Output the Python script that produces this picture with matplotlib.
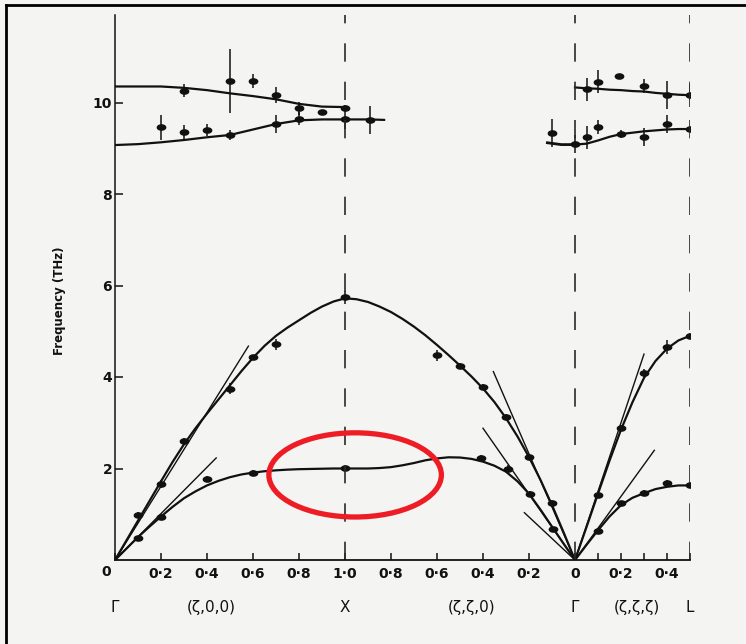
import numpy as np
import matplotlib
matplotlib.use("Agg")
import matplotlib.pyplot as plt
from matplotlib.path import Path
from matplotlib.patches import Ellipse
from matplotlib.lines import Line2D

# ---------------- data ----------------
# Segment 1: Gamma -> X, (zeta,0,0); position = zeta
seg1_zeta = [0.0, 0.05, 0.1, 0.15, 0.2, 0.25, 0.3, 0.35, 0.4, 0.45, 0.5,
             0.55, 0.6, 0.65, 0.7, 0.75, 0.8, 0.85, 0.9, 0.95, 1.0]
seg1_LA = [0.0, 0.43, 0.86, 1.29, 1.72, 2.14, 2.53, 2.88, 3.2, 3.51, 3.82,
           4.13, 4.42, 4.68, 4.9, 5.08, 5.24, 5.4, 5.54, 5.65, 5.72]
seg1_TA = [0.0, 0.25, 0.5, 0.73, 0.95, 1.16, 1.35, 1.5, 1.63, 1.73, 1.81,
           1.87, 1.91, 1.94, 1.96, 1.975, 1.985, 1.99, 1.995, 2.0, 2.0]
seg1_opt_zeta = [0.0, 0.1, 0.2, 0.3, 0.4, 0.5, 0.6, 0.7, 0.8, 0.9, 1.0]
seg1_opt_hi = [10.35, 10.35, 10.35, 10.32, 10.27, 10.2, 10.14, 10.07, 9.97, 9.91, 9.9]
seg1_opt_lo = [9.07, 9.09, 9.13, 9.18, 9.24, 9.29, 9.41, 9.53, 9.61, 9.63, 9.63]

# Segment 2: X -> Gamma, (zeta,zeta,0); position = 2 - zeta
seg2_zeta = [1.0, 0.95, 0.9, 0.85, 0.8, 0.75, 0.7, 0.65, 0.6, 0.55, 0.5,
             0.45, 0.4, 0.35, 0.3, 0.25, 0.2, 0.15, 0.1, 0.05, 0.0]
seg2_LA = [5.72, 5.7, 5.64, 5.54, 5.42, 5.27, 5.1, 4.91, 4.7, 4.48, 4.25,
           4.01, 3.75, 3.45, 3.1, 2.7, 2.25, 1.75, 1.2, 0.61, 0.0]
seg2_TA = [2.0, 2.0, 2.0, 2.01, 2.03, 2.07, 2.12, 2.18, 2.22, 2.245, 2.24,
           2.21, 2.15, 2.06, 1.93, 1.72, 1.45, 1.1, 0.73, 0.36, 0.0]
seg2_opt_lo_zeta = [1.0, 0.9, 0.83]
seg2_opt_lo = [9.63, 9.63, 9.62]
seg2_opt_tail_zeta = [0.12, 0.06, 0.0]
seg2_opt_tail = [9.12, 9.08, 9.08]

# Segment 3: Gamma -> L, (zeta,zeta,zeta); position = 2 + zeta
seg3_zeta = [0.0, 0.05, 0.1, 0.15, 0.2, 0.25, 0.3, 0.35, 0.4, 0.45, 0.5]
seg3_LA = [0.0, 0.72, 1.45, 2.17, 2.85, 3.45, 3.98, 4.35, 4.62, 4.8, 4.9]
seg3_TA = [0.0, 0.33, 0.65, 0.95, 1.2, 1.36, 1.46, 1.55, 1.6, 1.63, 1.63]
seg3_opt_hi = [10.33, 10.31, 10.3, 10.28, 10.27, 10.25, 10.24, 10.21, 10.19, 10.17, 10.16]
seg3_opt_lo = [9.08, 9.1, 9.17, 9.25, 9.31, 9.34, 9.37, 9.39, 9.41, 9.42, 9.42]

# initial slopes (THz per zeta) and extent of the straight sound-velocity lines
tan1_slope = [8.06, 5.07]
tan1_extent = [0.58, 0.44]
tan2_slope = [11.6, 7.2, 4.7]
tan2_extent = [0.355, 0.40, 0.22]
tan3_slope = [15.0, 6.95]
tan3_extent = [0.30, 0.345]

# measured points: (zeta, frequency, error)
pts1_zeta = [0.1, 0.2, 0.3, 0.5, 0.6, 0.7, 1.0, 0.1, 0.2, 0.4, 0.6, 1.0]
pts1_freq = [0.98, 1.66, 2.6, 3.74, 4.43, 4.72, 5.74, 0.48, 0.94, 1.77, 1.9, 2.02]
pts1_err = [0.06, 0.08, 0.06, 0.12, 0.06, 0.12, 0.15, 0.05, 0.06, 0.06, 0.06, 0.06]

pts2_zeta = [0.6, 0.5, 0.4, 0.3, 0.2, 0.1, 0.41, 0.29, 0.195, 0.096]
pts2_freq = [4.48, 4.24, 3.78, 3.13, 2.25, 1.25, 2.23, 2.0, 1.45, 0.67]
pts2_err = [0.12, 0.06, 0.06, 0.06, 0.06, 0.06, 0.06, 0.08, 0.06, 0.06]

pts3_zeta = [0.1, 0.2, 0.3, 0.4, 0.5, 0.1, 0.2, 0.3, 0.4, 0.5]
pts3_freq = [1.42, 2.88, 4.09, 4.66, 4.9, 0.64, 1.25, 1.47, 1.68, 1.63]
pts3_err = [0.06, 0.06, 0.08, 0.15, 0.06, 0.05, 0.05, 0.05, 0.06, 0.06]

opt1_zeta = [0.2, 0.3, 0.3, 0.4, 0.5, 0.5, 0.6, 0.7, 0.7, 0.8, 0.8, 0.9, 1.0, 1.0]
opt1_freq = [9.46, 10.26, 9.35, 9.4, 10.47, 9.29, 10.47, 10.16, 9.53, 9.87, 9.65, 9.79, 9.89, 9.63]
opt1_err = [0.27, 0.15, 0.15, 0.14, 0.7, 0.1, 0.15, 0.18, 0.2, 0.15, 0.15, 0.05, 0.05, 0.2]
opt2_zeta = [0.89, 0.10, 0.0]
opt2_freq = [9.62, 9.33, 9.1]
opt2_err = [0.3, 0.3, 0.2]
opt3_zeta = [0.05, 0.05, 0.1, 0.1, 0.19, 0.2, 0.3, 0.3, 0.4, 0.4, 0.5, 0.5]
opt3_freq = [10.29, 9.24, 10.45, 9.46, 10.58, 9.31, 10.36, 9.24, 10.16, 9.53, 10.16, 9.42]
opt3_err = [0.25, 0.25, 0.25, 0.15, 0.0, 0.08, 0.15, 0.2, 0.3, 0.2, 0.25, 0.05]

xtick_pos = [0, 0.2, 0.4, 0.6, 0.8, 1.0, 1.2, 1.4, 1.6, 1.8, 2.0, 2.1, 2.2, 2.3, 2.4, 2.5]
xtick_labels = ["", "0·2", "0·4", "0·6", "0·8", "1·0", "0·8", "0·6", "0·4", "0·2", "0",
                "", "0·2", "", "0·4", ""]
origin_label = "0"
ytick_pos = [2, 4, 6, 8, 10]
sym_pos = [0.0, 0.42, 1.0, 1.55, 2.0, 2.27, 2.5]
sym_labels = ["Γ", "(ζ,0,0)", "X", "(ζ,ζ,0)", "Γ", "(ζ,ζ,ζ)", "L"]

# ---------------- figure ----------------
W, H = 746, 644
fig = plt.figure(figsize=(W / 100, H / 100), dpi=100, facecolor="#f4f4f3")
ax = fig.add_axes([115 / W, 1 - 560 / H, (690 - 115) / W, (560 - 15) / H])
ax.set_facecolor("none")
ax.set_xlim(0, 2.5)
ax.set_ylim(0, (560 - 15) / 45.75)

ink = "#111111"
lw_curve = 1.6

def p1(z): return np.asarray(z, float)
def p2(z): return 2.0 - np.asarray(z, float)
def p3(z): return 2.0 + np.asarray(z, float)

for y in (seg1_LA, seg1_TA):
    ax.plot(p1(seg1_zeta), y, color=ink, lw=lw_curve)
for y in (seg1_opt_hi, seg1_opt_lo):
    ax.plot(p1(seg1_opt_zeta), y, color=ink, lw=lw_curve)
for y in (seg2_LA, seg2_TA):
    ax.plot(p2(seg2_zeta), y, color=ink, lw=lw_curve)
ax.plot(p2(seg2_opt_lo_zeta), seg2_opt_lo, color=ink, lw=lw_curve)
ax.plot(p2(seg2_opt_tail_zeta), seg2_opt_tail, color=ink, lw=lw_curve + 0.4)
for y in (seg3_LA, seg3_TA, seg3_opt_lo, seg3_opt_hi):
    ax.plot(p3(seg3_zeta), y, color=ink, lw=lw_curve)

# sound-velocity tangent lines
for s, e in zip(tan1_slope, tan1_extent):
    ax.plot(p1([0, e]), [0, s * e], color=ink, lw=1.0)
for s, e in zip(tan2_slope, tan2_extent):
    ax.plot(p2([0, e]), [0, s * e], color=ink, lw=1.0)
for s, e in zip(tan3_slope, tan3_extent):
    ax.plot(p3([0, e]), [0, s * e], color=ink, lw=1.0)

# oval marker
t = np.linspace(0, 2 * np.pi, 40)
oval = Path(np.column_stack([1.6 * np.cos(t), np.sin(t)]), closed=True)

def draw_pts(x, y, e, ms=6.0):
    ax.errorbar(x, y, yerr=e, fmt="none", ecolor=ink, elinewidth=1.1, capsize=0)
    ax.plot(x, y, linestyle="none", marker=oval, ms=ms, color=ink)

draw_pts(p1(pts1_zeta), pts1_freq, pts1_err)
draw_pts(p2(pts2_zeta), pts2_freq, pts2_err)
draw_pts(p3(pts3_zeta), pts3_freq, pts3_err)
draw_pts(p1(opt1_zeta), opt1_freq, opt1_err)
draw_pts(p2(opt2_zeta), opt2_freq, opt2_err)
draw_pts(p3(opt3_zeta), opt3_freq, opt3_err)

# dashed symmetry lines
for xv in (1.0, 2.0, 2.5):
    ax.axvline(xv, color="#2a2a2a", lw=1.2, ls=(0, (11, 12)))

# axes styling
for s in ("top", "right"):
    ax.spines[s].set_visible(False)
ax.spines["left"].set_color(ink)
ax.spines["bottom"].set_color(ink)
ax.spines["left"].set_linewidth(1.1)
ax.spines["bottom"].set_linewidth(1.3)
ax.set_xticks(xtick_pos)
ax.set_xticklabels(xtick_labels, fontweight="bold")
ax.set_yticks(ytick_pos)
ax.set_yticklabels([str(v) for v in ytick_pos], fontweight="bold")
ax.tick_params(axis="x", direction="in", length=5, width=1.1, pad=5, labelsize=10, colors=ink)
ax.tick_params(axis="y", direction="in", length=6, width=1.1, pad=2, labelsize=10, colors=ink)
ax.text(-0.039, -0.022, origin_label, transform=ax.get_xaxis_transform(), ha="center",
        va="center", fontsize=10, fontweight="bold", color=ink)

for xv, s in zip(sym_pos, sym_labels):
    ax.text(xv, -0.088, s, transform=ax.get_xaxis_transform(), ha="center", va="center",
            fontsize=11, color=ink)

ax.text(-0.096, 0.475, "Frequency (THz)", transform=ax.transAxes, rotation=90,
        ha="center", va="center", fontsize=8.5, fontweight="bold", color=ink)

# red highlight ellipse
ax.add_patch(Ellipse((1.044, 1.86), 0.75, 1.84, fill=False, edgecolor="#ee1c24", lw=3.8,
                     zorder=5, clip_on=False))

# scan frame
fig.add_artist(Line2D([6 / W, 6 / W], [0, 1 - 5 / H], color="black", lw=2.0,
                      transform=fig.transFigure))
fig.add_artist(Line2D([6 / W, 1], [1 - 5 / H, 1 - 5 / H], color="black", lw=2.0,
                      transform=fig.transFigure))

fig.savefig("out.png", dpi=100, facecolor=fig.get_facecolor())
